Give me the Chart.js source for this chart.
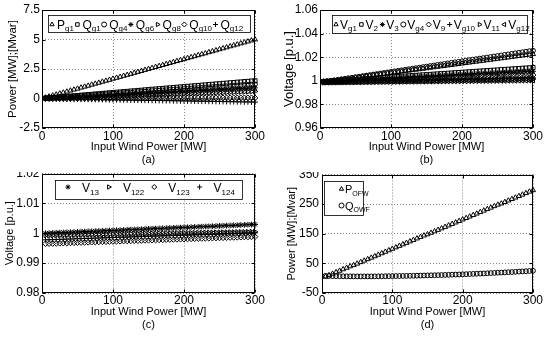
<!DOCTYPE html>
<html>
<head>
<meta charset="utf-8">
<script src="https://cdn.jsdelivr.net/npm/chart.js@4.4.1/dist/chart.umd.min.js"></script>
<style>
  html, body { margin: 0; padding: 0; background: #fff; }
  body { width: 550px; height: 343px; position: relative; overflow: hidden; }
  .panel { position: absolute; overflow: hidden; }
  .panel canvas { position: absolute; left: 0; }
</style>
</head>
<body>
<div class="panel" style="left:0;top:0;width:275px;height:172px"><canvas id="chart-a" width="275" height="172" style="top:0"></canvas></div>
<div class="panel" style="left:275px;top:0;width:275px;height:172px"><canvas id="chart-b" width="275" height="172" style="top:0"></canvas></div>
<div class="panel" style="left:0;top:172px;width:275px;height:171px"><canvas id="chart-c" width="275" height="181" style="top:-10px"></canvas></div>
<div class="panel" style="left:275px;top:172px;width:275px;height:171px"><canvas id="chart-d" width="275" height="181" style="top:-10px"></canvas></div>
<script>
// -- Data --
const windMW = [5,10,15,20,25,30,35,40,45,50,55,60,65,70,75,80,85,90,95,100,
  105,110,115,120,125,130,135,140,145,150,155,160,165,170,175,180,185,190,195,200,
  205,210,215,220,225,230,235,240,245,250,255,260,265,270,275,280,285,290,295,300];
const xTicks = [0, 100, 200, 300];

// (a) generator powers
const aTicks = [-2.5, 0, 2.5, 5, 7.5];
const aNames = [['P','g1'],['Q','g1'],['Q','g4'],['Q','g6'],['Q','g8'],['Q','g10'],['Q','g12']];
const aPg1 = [0.08,0.17,0.25,0.33,0.42,0.5,0.58,0.67,0.75,0.83,0.92,1.0,1.08,1.17,1.25,1.33,1.42,1.5,1.58,1.67,
  1.75,1.83,1.92,2.0,2.08,2.17,2.25,2.33,2.42,2.5,2.58,2.67,2.75,2.83,2.92,3.0,3.08,3.17,3.25,3.33,
  3.42,3.5,3.58,3.67,3.75,3.83,3.92,4.0,4.08,4.17,4.25,4.33,4.42,4.5,4.58,4.67,4.75,4.83,4.92,5.0];
const aQg1 = [0.03,0.05,0.08,0.1,0.13,0.15,0.18,0.2,0.23,0.25,0.28,0.3,0.33,0.35,0.38,0.4,0.43,0.45,0.48,0.5,
  0.53,0.55,0.58,0.6,0.63,0.65,0.68,0.7,0.73,0.75,0.78,0.8,0.83,0.85,0.88,0.9,0.93,0.95,0.98,1.0,
  1.03,1.05,1.08,1.1,1.13,1.15,1.18,1.2,1.23,1.25,1.28,1.3,1.33,1.35,1.38,1.4,1.43,1.45,1.48,1.5];
const aQg4 = [0.02,0.04,0.06,0.08,0.1,0.12,0.14,0.16,0.18,0.2,0.22,0.24,0.26,0.28,0.3,0.32,0.34,0.36,0.38,0.4,
  0.42,0.44,0.46,0.48,0.5,0.52,0.54,0.56,0.58,0.6,0.62,0.64,0.66,0.68,0.7,0.72,0.74,0.76,0.78,0.8,
  0.82,0.84,0.86,0.88,0.9,0.92,0.94,0.96,0.98,1.0,1.02,1.04,1.06,1.08,1.1,1.12,1.14,1.16,1.18,1.2];
const aQg6 = [0.02,0.03,0.05,0.06,0.08,0.09,0.11,0.12,0.14,0.15,0.17,0.18,0.2,0.21,0.23,0.24,0.26,0.27,0.29,0.3,
  0.32,0.33,0.35,0.36,0.38,0.39,0.41,0.42,0.44,0.45,0.47,0.48,0.5,0.51,0.53,0.54,0.56,0.57,0.59,0.6,
  0.62,0.63,0.65,0.66,0.68,0.69,0.71,0.72,0.74,0.75,0.77,0.78,0.8,0.81,0.83,0.84,0.86,0.87,0.89,0.9];
const aQg8 = [0.01,0.02,0.03,0.04,0.05,0.06,0.07,0.08,0.09,0.1,0.11,0.12,0.13,0.14,0.15,0.16,0.17,0.18,0.19,0.2,
  0.21,0.22,0.23,0.24,0.25,0.26,0.27,0.28,0.29,0.3,0.31,0.32,0.33,0.34,0.35,0.36,0.37,0.38,0.39,0.4,
  0.41,0.42,0.43,0.44,0.45,0.46,0.47,0.48,0.49,0.5,0.51,0.52,0.53,0.54,0.55,0.56,0.57,0.58,0.59,0.6];
const aQg10 = [0,0,0,0,0,0,0,0,0,0,0.01,0.01,0.01,0.01,0.01,0.01,0.01,0.01,0.01,0.01,
  0.02,0.02,0.02,0.02,0.02,0.02,0.02,0.02,0.02,0.02,0.03,0.03,0.03,0.03,0.03,0.03,0.03,0.03,0.03,0.03,
  0.04,0.04,0.04,0.04,0.04,0.04,0.04,0.04,0.04,0.04,0.05,0.05,0.05,0.05,0.05,0.05,0.05,0.05,0.05,0.05];
const aQg12 = [-0.01,-0.01,-0.02,-0.02,-0.03,-0.03,-0.04,-0.04,-0.05,-0.05,-0.06,-0.06,-0.07,-0.07,-0.08,-0.08,-0.09,-0.09,-0.1,-0.1,
  -0.11,-0.11,-0.12,-0.12,-0.13,-0.13,-0.14,-0.14,-0.15,-0.15,-0.16,-0.16,-0.17,-0.17,-0.18,-0.18,-0.19,-0.19,-0.2,-0.2,
  -0.21,-0.21,-0.22,-0.22,-0.23,-0.23,-0.24,-0.24,-0.25,-0.25,-0.26,-0.26,-0.27,-0.27,-0.28,-0.28,-0.29,-0.29,-0.3,-0.3];

// (b) generator bus voltages
const bTicks = [0.96, 0.98, 1, 1.02, 1.04, 1.06];
const bNames = [['V','g1'],['V','2'],['V','3'],['V','g4'],['V','9'],['V','g10'],['V','11'],['V','g12']];
const bVg1 = [0.999,0.9994,0.9998,1.0002,1.0006,1.001,1.0014,1.0018,1.0022,1.0026,1.003,1.0034,1.0038,1.0042,1.0046,1.005,1.0054,1.0058,1.0062,1.0066,
  1.007,1.0074,1.0078,1.0082,1.0086,1.009,1.0094,1.0098,1.0102,1.0106,1.011,1.0114,1.0118,1.0122,1.0126,1.013,1.0134,1.0138,1.0142,1.0146,
  1.015,1.0154,1.0158,1.0162,1.0166,1.017,1.0174,1.0178,1.0182,1.0186,1.019,1.0194,1.0198,1.0202,1.0206,1.021,1.0214,1.0218,1.0222,1.0226];
const bV2 = [0.9994,0.9996,0.9998,1.0,1.0002,1.0004,1.0006,1.0008,1.001,1.0012,1.0014,1.0016,1.0018,1.002,1.0022,1.0024,1.0026,1.0028,1.003,1.0032,
  1.0034,1.0036,1.0038,1.004,1.0042,1.0044,1.0046,1.0048,1.005,1.0052,1.0054,1.0056,1.0058,1.006,1.0062,1.0064,1.0066,1.0068,1.007,1.0072,
  1.0074,1.0076,1.0078,1.008,1.0082,1.0084,1.0086,1.0088,1.009,1.0092,1.0094,1.0096,1.0098,1.01,1.0102,1.0104,1.0106,1.0108,1.011,1.0112];
const bV3 = [0.9992,0.99935,0.9995,0.99965,0.9998,0.99995,1.0001,1.00025,1.0004,1.00055,1.0007,1.00085,1.001,1.00115,1.0013,1.00145,1.0016,1.00175,1.0019,1.00205,
  1.0022,1.00235,1.0025,1.00265,1.0028,1.00295,1.0031,1.00325,1.0034,1.00355,1.0037,1.00385,1.004,1.00415,1.0043,1.00445,1.0046,1.00475,1.0049,1.00505,
  1.0052,1.00535,1.0055,1.00565,1.0058,1.00595,1.0061,1.00625,1.0064,1.00655,1.0067,1.00685,1.007,1.00715,1.0073,1.00745,1.0076,1.00775,1.0079,1.00805];
const bVg4 = [0.999,0.99945,0.9999,1.00035,1.0008,1.00125,1.0017,1.00215,1.0026,1.00305,1.0035,1.00395,1.0044,1.00485,1.0053,1.00575,1.0062,1.00665,1.0071,1.00755,
  1.008,1.00845,1.0089,1.00935,1.0098,1.01025,1.0107,1.01115,1.0116,1.01205,1.0125,1.01295,1.0134,1.01385,1.0143,1.01475,1.0152,1.01565,1.0161,1.01655,
  1.017,1.01745,1.0179,1.01835,1.0188,1.01925,1.0197,1.02015,1.0206,1.02105,1.0215,1.02195,1.0224,1.02285,1.0233,1.02375,1.0242,1.02465,1.0251,1.02555];
const bV9 = [0.999,0.9991,0.9992,0.9993,0.9994,0.9995,0.9996,0.9997,0.9998,0.9999,1.0,1.0001,1.0002,1.0003,1.0004,1.0005,1.0006,1.0007,1.0008,1.0009,
  1.001,1.0011,1.0012,1.0013,1.0014,1.0015,1.0016,1.0017,1.0018,1.0019,1.002,1.0021,1.0022,1.0023,1.0024,1.0025,1.0026,1.0027,1.0028,1.0029,
  1.003,1.0031,1.0032,1.0033,1.0034,1.0035,1.0036,1.0037,1.0038,1.0039,1.004,1.0041,1.0042,1.0043,1.0044,1.0045,1.0046,1.0047,1.0048,1.0049];
const bVg10 = [0.9995,0.99955,0.9996,0.99965,0.9997,0.99975,0.9998,0.99985,0.9999,0.99995,1.0,1.00005,1.0001,1.00015,1.0002,1.00025,1.0003,1.00035,1.0004,1.00045,
  1.0005,1.00055,1.0006,1.00065,1.0007,1.00075,1.0008,1.00085,1.0009,1.00095,1.001,1.00105,1.0011,1.00115,1.0012,1.00125,1.0013,1.00135,1.0014,1.00145,
  1.0015,1.00155,1.0016,1.00165,1.0017,1.00175,1.0018,1.00185,1.0019,1.00195,1.002,1.00205,1.0021,1.00215,1.0022,1.00225,1.0023,1.00235,1.0024,1.00245];
const bV11 = [0.9985,0.99855,0.9986,0.99865,0.9987,0.99875,0.9988,0.99885,0.9989,0.99895,0.999,0.99905,0.9991,0.99915,0.9992,0.99925,0.9993,0.99935,0.9994,0.99945,
  0.9995,0.99955,0.9996,0.99965,0.9997,0.99975,0.9998,0.99985,0.9999,0.99995,1.0,1.00005,1.0001,1.00015,1.0002,1.00025,1.0003,1.00035,1.0004,1.00045,
  1.0005,1.00055,1.0006,1.00065,1.0007,1.00075,1.0008,1.00085,1.0009,1.00095,1.001,1.00105,1.0011,1.00115,1.0012,1.00125,1.0013,1.00135,1.0014,1.00145];
const bVg12 = [0.9985,0.99853,0.99856,0.99859,0.99862,0.99865,0.99868,0.99871,0.99874,0.99877,0.9988,0.99883,0.99886,0.99889,0.99892,0.99895,0.99898,0.99901,0.99904,0.99907,
  0.9991,0.99913,0.99916,0.99919,0.99922,0.99925,0.99928,0.99931,0.99934,0.99937,0.9994,0.99943,0.99946,0.99949,0.99952,0.99955,0.99958,0.99961,0.99964,0.99967,
  0.9997,0.99973,0.99976,0.99979,0.99982,0.99985,0.99988,0.99991,0.99994,0.99997,1.0,1.00003,1.00006,1.00009,1.00012,1.00015,1.00018,1.00021,1.00024,1.00027];

// (c) load bus voltages
const cTicks = [0.98, 0.99, 1, 1.01, 1.02];
const cNames = [['V','13'],['V','122'],['V','123'],['V','124']];
const cV13 = [1.0,1.00005,1.0001,1.00015,1.0002,1.00025,1.0003,1.00035,1.0004,1.00045,1.0005,1.00055,1.0006,1.00065,1.0007,1.00075,1.0008,1.00085,1.0009,1.00095,
  1.001,1.00105,1.0011,1.00115,1.0012,1.00125,1.0013,1.00135,1.0014,1.00145,1.0015,1.00155,1.0016,1.00165,1.0017,1.00175,1.0018,1.00185,1.0019,1.00195,
  1.002,1.00205,1.0021,1.00215,1.0022,1.00225,1.0023,1.00235,1.0024,1.00245,1.0025,1.00255,1.0026,1.00265,1.0027,1.00275,1.0028,1.00285,1.0029,1.00295];
const cV122 = [0.9993,0.99932,0.99934,0.99936,0.99938,0.9994,0.99942,0.99944,0.99946,0.99948,0.9995,0.99952,0.99954,0.99956,0.99958,0.9996,0.99962,0.99964,0.99966,0.99968,
  0.9997,0.99972,0.99974,0.99976,0.99978,0.9998,0.99982,0.99984,0.99986,0.99988,0.9999,0.99992,0.99994,0.99996,0.99998,1.0,1.00002,1.00004,1.00006,1.00008,
  1.0001,1.00012,1.00014,1.00016,1.00018,1.0002,1.00022,1.00024,1.00026,1.00028,1.0003,1.00032,1.00034,1.00036,1.00038,1.0004,1.00042,1.00044,1.00046,1.00048];
const cV123 = [0.9965,0.99654,0.99658,0.99662,0.99666,0.9967,0.99674,0.99678,0.99682,0.99686,0.9969,0.99694,0.99698,0.99702,0.99706,0.9971,0.99714,0.99718,0.99722,0.99726,
  0.9973,0.99734,0.99738,0.99742,0.99746,0.9975,0.99754,0.99758,0.99762,0.99766,0.9977,0.99774,0.99778,0.99782,0.99786,0.9979,0.99794,0.99798,0.99802,0.99806,
  0.9981,0.99814,0.99818,0.99822,0.99826,0.9983,0.99834,0.99838,0.99842,0.99846,0.9985,0.99854,0.99858,0.99862,0.99866,0.9987,0.99874,0.99878,0.99882,0.99886];
const cV124 = [0.9978,0.99784,0.99788,0.99792,0.99796,0.998,0.99804,0.99808,0.99812,0.99816,0.9982,0.99824,0.99828,0.99832,0.99836,0.9984,0.99844,0.99848,0.99852,0.99856,
  0.9986,0.99864,0.99868,0.99872,0.99876,0.9988,0.99884,0.99888,0.99892,0.99896,0.999,0.99904,0.99908,0.99912,0.99916,0.9992,0.99924,0.99928,0.99932,0.99936,
  0.9994,0.99944,0.99948,0.99952,0.99956,0.9996,0.99964,0.99968,0.99972,0.99976,0.9998,0.99984,0.99988,0.99992,0.99996,1.0,1.00004,1.00008,1.00012,1.00016];

// (d) offshore wind farm output
const dTicks = [-50, 0, 50, 100, 150, 200, 250, 300, 350];
const dNames = [['P','OFW'],['Q','OWF']];
const dPofw = [5,10,15,20,25,30,35,40,44,49,54,59,64,69,74,79,84,89,94,99,
  104,109,114,119,124,129,134,139,144,148,153,158,163,168,173,178,183,188,193,198,
  203,208,213,218,223,228,233,238,243,248,252,257,262,267,272,277,282,287,292,297];
const dQowf = [8,7.5,7,6.8,6.6,6.4,6.3,6.2,6.1,6.0,6.0,6.0,6.0,6.1,6.2,6.3,6.4,6.6,6.8,7.0,
  7.2,7.4,7.6,7.8,8.0,8.2,8.5,8.8,9.1,9.4,9.7,10.0,10.3,10.6,11.0,11.4,11.8,12.2,12.6,13.0,
  13.5,14.0,14.5,15.0,15.5,16.0,16.6,17.2,17.8,18.4,19.0,19.6,20.2,20.8,21.5,22.2,22.9,23.6,24.3,25.0];

// -- Look --
const FONT = "'Liberation Sans', Arial, sans-serif";
Chart.defaults.font.family = FONT;
Chart.defaults.color = '#000';

// marker style per series: [pointStyle, rotation]
const markA = [['triangle',0],['rect',0],['circle',0],['star',0],['triangle',90],['rectRot',0],['cross',0]];
const markB = [['triangle',0],['rect',0],['star',0],['circle',0],['rectRot',0],['cross',0],['triangle',90],['triangle',-90]];
const markC = [['star',0],['triangle',90],['rectRot',0],['cross',0]];
const markD = [['triangle',0],['circle',0]];

// box round the axes, with matlab style inner ticks
const frame = {
    id: 'frame',
    afterDatasetsDraw(chart) {
        const { ctx, chartArea: a, scales } = chart;
        const L = Math.round(a.left) + 0.5, R = Math.round(a.right) - 0.5;
        const T = Math.round(a.top) + 0.5, B = Math.round(a.bottom) - 0.5;
        ctx.save();
        ctx.strokeStyle = '#000';
        ctx.lineWidth = 1;
        ctx.strokeRect(L, T, R - L, B - T);
        ctx.beginPath();
        scales.x.ticks.forEach(t => {
            const px = Math.round(scales.x.getPixelForValue(t.value)) + 0.5;
            ctx.moveTo(px, B); ctx.lineTo(px, B - 3);
            ctx.moveTo(px, T); ctx.lineTo(px, T + 3);
        });
        scales.y.ticks.forEach(t => {
            const py = Math.round(scales.y.getPixelForValue(t.value)) + 0.5;
            ctx.moveTo(L, py); ctx.lineTo(L + 3, py);
            ctx.moveTo(R, py); ctx.lineTo(R - 3, py);
        });
        ctx.stroke();
        ctx.restore();
    }
};

// legend in a white box, with subscripts
function makeLegend(lg, names) {
    return {
        id: 'boxLegend',
        afterDraw(chart) {
            const ctx = chart.ctx;
            ctx.save();
            ctx.fillStyle = '#fff';
            ctx.fillRect(lg.x, lg.y, lg.w, lg.h);
            ctx.strokeStyle = '#000';
            ctx.lineWidth = 0.8;
            ctx.strokeRect(lg.x + 0.5, lg.y + 0.5, lg.w, lg.h);
            ctx.textAlign = 'left';
            ctx.textBaseline = 'alphabetic';
            lg.rows.forEach((row, r) => {
                let cur = lg.x + lg.padL;
                const cy = lg.y + lg.rowY[r];
                row.forEach(i => {
                    const ds = chart.data.datasets[i];
                    const cx = cur + lg.r;
                    ctx.strokeStyle = '#000';
                    ctx.fillStyle = 'rgba(0,0,0,0)';
                    ctx.lineWidth = 1;
                    Chart.helpers.drawPoint(ctx, { pointStyle: ds.pointStyle, rotation: ds.pointRotation, radius: lg.r, borderWidth: 1 }, cx, cy);
                    ctx.fillStyle = '#000';
                    let tx = cx + lg.r + lg.markGap;
                    ctx.font = lg.main + 'px ' + FONT;
                    ctx.fillText(names[i][0], tx, cy + lg.mainDy);
                    tx += ctx.measureText(names[i][0]).width;
                    ctx.font = lg.sub + 'px ' + FONT;
                    ctx.fillText(names[i][1], tx, cy + lg.subDy);
                    tx += ctx.measureText(names[i][1]).width;
                    cur = tx + lg.itemGap;
                });
            });
            ctx.restore();
        }
    };
}

function buildPanel(id, p) {
    const datasets = p.series.map((vals, i) => ({
        label: p.names[i].join(''),
        data: vals,
        showLine: false,
        clip: false,
        pointStyle: p.marks[i][0],
        pointRotation: p.marks[i][1],
        pointRadius: p.marks[i][0] === 'circle' ? 2.4 : 2.9,
        pointBorderWidth: 1,
        pointBorderColor: '#000',
        pointBackgroundColor: 'rgba(0,0,0,0)',
        borderColor: '#000'
    }));
    const grid = { color: '#666', lineWidth: 0.8, drawTicks: false };
    const border = { display: false, dash: [1, 2] };
    return new Chart(document.getElementById(id), {
        type: 'line',
        data: { labels: windMW, datasets },
        options: {
            responsive: false,
            animation: false,
            events: [],
            layout: { padding: p.pad },
            scales: {
                x: {
                    type: 'linear', min: 0, max: 300,
                    afterBuildTicks: s => { s.ticks = xTicks.map(v => ({ value: v })); },
                    afterFit: s => { s.height = p.xH; },
                    grid, border,
                    ticks: { padding: p.xTickPad, font: { size: 12 }, callback: v => String(v) },
                    title: { display: true, text: ['Input Wind Power [MW]', p.tag], font: { size: 11 }, padding: { top: 0, bottom: p.xTitlePad } }
                },
                y: {
                    min: p.yTicks[0], max: p.yTicks[p.yTicks.length - 1],
                    afterBuildTicks: s => { s.ticks = p.yTicks.map(v => ({ value: v })); },
                    afterFit: s => { s.width = p.yW; },
                    grid, border,
                    ticks: { padding: p.yTickPad, font: { size: 12 }, callback: v => String(v) },
                    title: { display: true, text: p.yTitle, font: { size: p.yTitleSize }, padding: { top: p.yTitlePad, bottom: 0 } }
                }
            },
            plugins: { legend: { display: false }, tooltip: { enabled: false } }
        },
        plugins: [frame, makeLegend(p.legend, p.names)]
    });
}

// -- Panels --
buildPanel('chart-a', {
    series: [aPg1, aQg1, aQg4, aQg6, aQg8, aQg10, aQg12], names: aNames, marks: markA,
    yTicks: aTicks, yTitle: 'Power [MW];[Mvar]', yTitleSize: 11.5, yTitlePad: 6,
    pad: { left: 0, right: 20, top: 10, bottom: 0 }, yW: 42, xH: 44,
    xTickPad: 1, yTickPad: 2, xTitlePad: 5, tag: '(a)',
    legend: { x: 48, y: 15, w: 202, h: 17, padL: 1.5, r: 2.5, markGap: 2.5, itemGap: 1,
              main: 12, sub: 8, mainDy: 4, subDy: 6.5, rowY: [9.5], rows: [[0,1,2,3,4,5,6]] }
});

buildPanel('chart-b', {
    series: [bVg1, bV2, bV3, bVg4, bV9, bVg10, bV11, bVg12], names: bNames, marks: markB,
    yTicks: bTicks, yTitle: 'Voltage [p.u.]', yTitleSize: 13, yTitlePad: 7,
    pad: { left: 0, right: 17, top: 10, bottom: 0 }, yW: 45, xH: 44,
    xTickPad: 1, yTickPad: 2, xTitlePad: 5, tag: '(b)',
    legend: { x: 57, y: 15, w: 195, h: 18, padL: 1.5, r: 2.5, markGap: 1.5, itemGap: 2,
              main: 12, sub: 8, mainDy: 4, subDy: 6.5, rowY: [9.5], rows: [[0,1,2,3,4,5,6,7]] }
});

buildPanel('chart-c', {
    series: [cV13, cV122, cV123, cV124], names: cNames, marks: markC,
    yTicks: cTicks, yTitle: 'Voltage [p.u.]', yTitleSize: 11, yTitlePad: 3.5,
    pad: { left: 0, right: 20, top: 11.5, bottom: 0 }, yW: 42, xH: 50,
    xTickPad: 0, yTickPad: 2.5, xTitlePad: 11, tag: '(c)',
    legend: { x: 55, y: 18, w: 187, h: 19, padL: 10.5, r: 2.5, markGap: 11.5, itemGap: 7.5,
              main: 12, sub: 8, mainDy: 5, subDy: 8, rowY: [7], rows: [[0,1,2,3]] }
});

buildPanel('chart-d', {
    series: [dPofw, dQowf], names: dNames, marks: markD,
    yTicks: dTicks, yTitle: 'Power [MW];[Mvar]', yTitleSize: 11, yTitlePad: 10,
    pad: { left: 0, right: 17, top: 12.5, bottom: 0 }, yW: 47, xH: 50,
    xTickPad: 0, yTickPad: 3, xTitlePad: 11, tag: '(d)',
    legend: { x: 49, y: 19, w: 39, h: 34, padL: 15, r: 2.5, markGap: 1, itemGap: 2,
              main: 11, sub: 7, mainDy: 4, subDy: 6.5, rowY: [8, 24.5], rows: [[0],[1]] }
});
</script>
</body>
</html>
